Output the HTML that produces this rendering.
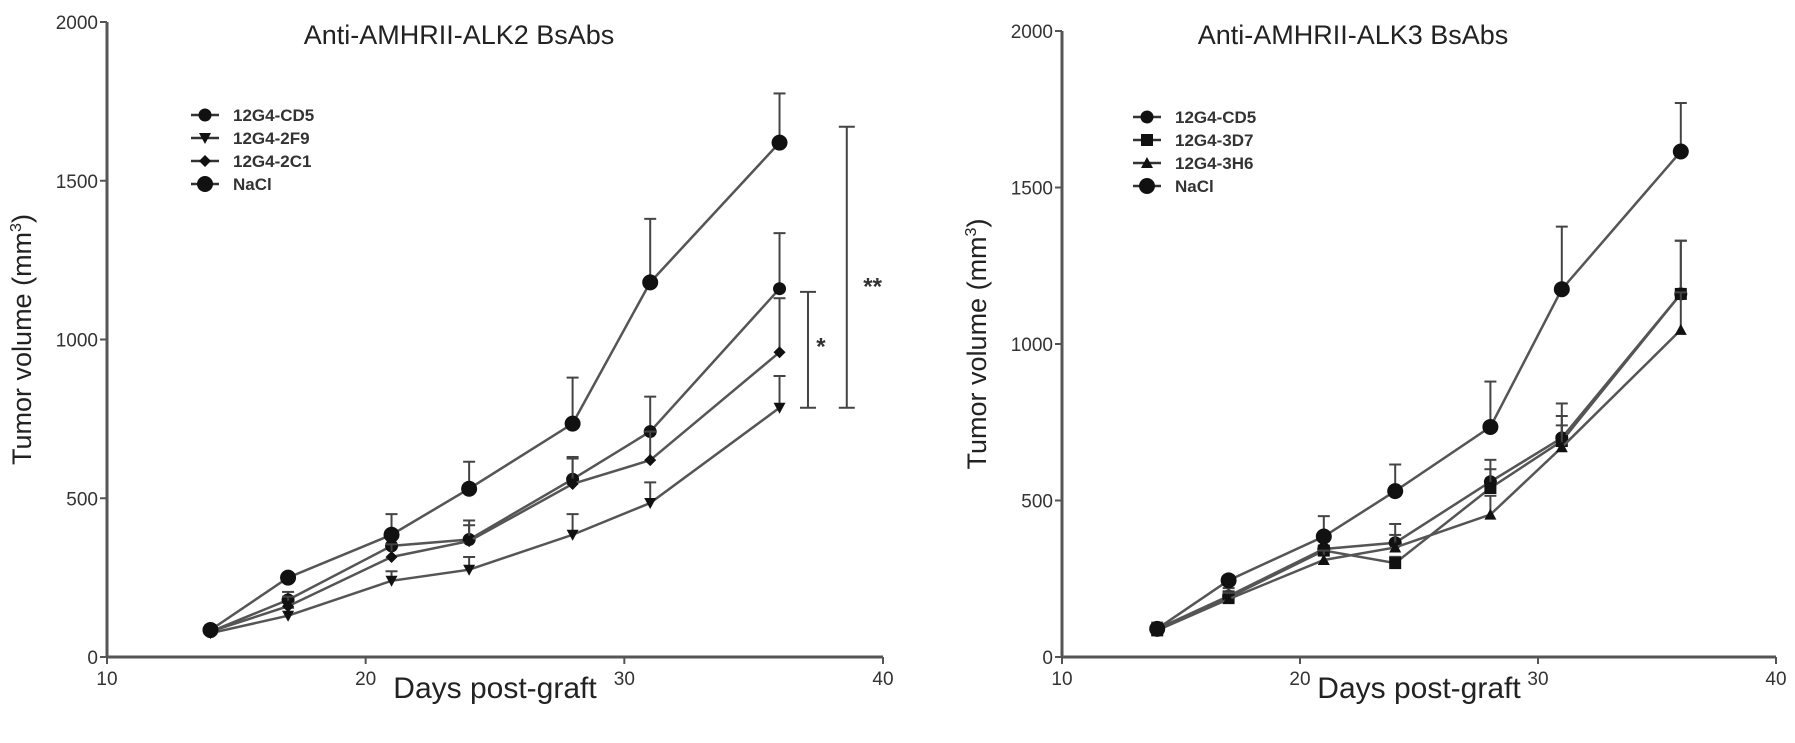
<!DOCTYPE html>
<html><head><meta charset="utf-8">
<style>
html,body{margin:0;padding:0;background:#fff;}
svg{display:block;font-family:"Liberation Sans",Arial,sans-serif;}
</style></head>
<body>
<svg id="chart" width="1795" height="743" viewBox="0 0 1795 743" xmlns="http://www.w3.org/2000/svg"></svg>
<script>
const days = [14,17,21,24,28,31,36];
const xTicks = [10,20,30,40];
const yTicks = [0,500,1000,1500,2000];
// Panel A (ALK2)
const a_cd5 = [80,180,350,370,560,710,1160];
const a_cd5_err = [20,25,40,60,70,110,175];
const a_2f9 = [75,130,240,275,385,485,785];
const a_2f9_err = [15,25,30,40,65,65,100];
const a_2c1 = [80,160,315,365,545,620,960];
const a_2c1_err = [15,30,40,50,80,90,170];
const a_nacl = [85,250,385,530,735,1180,1620];
const a_nacl_err = [10,10,65,85,145,200,155];
// Panel B (ALK3)
const b_cd5 = [90,195,345,365,560,700,1160];
const b_cd5_err = [20,25,50,60,70,110,170];
const b_3d7 = [85,190,340,300,540,690,1160];
const b_3d7_err = [15,20,30,20,60,80,170];
const b_3h6 = [85,185,310,350,455,670,1045];
const b_3h6_err = [15,20,30,40,60,70,120];
const b_nacl = [90,245,385,530,735,1175,1615];
const b_nacl_err = [10,10,65,85,145,200,155];

const NS="http://www.w3.org/2000/svg";
const svg=document.getElementById('chart');
function mk(tag,attrs,parent){const e=document.createElementNS(NS,tag);for(const k in attrs)e.setAttribute(k,attrs[k]);(parent||svg).appendChild(e);return e;}

function panel(p){
  const g=mk('g',{});
  
  
  const X=d=>p.x0+(d-10)/30*(p.x1-p.x0);
  const Y=v=>p.y0-v/2000*(p.y0-p.y1);
  const ax=mk('line',{x1:p.x0,y1:p.y0,x2:p.x0,y2:Y(2000),stroke:'#555','stroke-width':3},g);
  
  
  const bx=mk('line',{x1:p.x0,y1:p.y0,x2:p.x1,y2:p.y0,stroke:'#555','stroke-width':3},g);
  
  
  yTicks.forEach(v=>{
    mk('line',{x1:p.x0-7,y1:Y(v),x2:p.x0,y2:Y(v),stroke:'#555','stroke-width':2},g);
    const t=mk('text',{x:p.x0-9,y:Y(v)+7,'text-anchor':'end','font-size':19,fill:'#333'},g);
    t.textContent=v;
    
    
  });
  xTicks.forEach(v=>{
    mk('line',{x1:X(v),y1:p.y0,x2:X(v),y2:p.y0+7,stroke:'#555','stroke-width':2},g);
    const t=mk('text',{x:X(v),y:p.y0+28,'text-anchor':'middle','font-size':19,fill:'#333'},g);
    t.textContent=v;
    
    
  });
  const tt=mk('text',{x:p.tx,y:44,'text-anchor':'middle','font-size':27,fill:'#222'},g);
  tt.textContent=p.title;
  
  
  const xt=mk('text',{x:(p.x0+p.x1)/2,y:698,'text-anchor':'middle','font-size':30,fill:'#222'},g);
  xt.textContent='Days post-graft';
  
  
  const yt=mk('text',{x:0,y:0,'text-anchor':'middle','font-size':27,fill:'#222',transform:`translate(${p.x0-76},${(p.y0+Y(2000))/2}) rotate(-90)`},g);
  yt.innerHTML='Tumor volume (mm<tspan dy="-10" font-size="16">3</tspan><tspan dy="10">)</tspan>';
  
  

  p.series.forEach((s,si)=>{
    const sg=mk('g',{},g);
    
    
    s.err.forEach((e,i)=>{
      const x=X(days[i]),y=Y(s.vals[i]),ye=Y(s.vals[i]+e);
      mk('line',{x1:x,y1:y,x2:x,y2:ye,stroke:'#444','stroke-width':2},sg);
      mk('line',{x1:x-6,y1:ye,x2:x+6,y2:ye,stroke:'#444','stroke-width':2},sg);
    });
    mk('polyline',{points:s.vals.map((v,i)=>X(days[i])+','+Y(v)).join(' '),fill:'none',stroke:'#555','stroke-width':2.5},sg);
    s.vals.forEach((v,i)=>{
      const m=marker(sg,s.shape,X(days[i]),Y(v));
      
      
    });
    const ly=p.ly+si*23;
    mk('line',{x1:p.lx-14,y1:ly,x2:p.lx+14,y2:ly,stroke:'#333','stroke-width':2.5},g);
    marker(g,s.shape,p.lx,ly,true);
    const lt=mk('text',{x:p.lx+28,y:ly+6,'font-size':17,'font-weight':'bold',fill:'#333'},g);
    lt.textContent=s.name;
    
    
  });
  return {X,Y,g};
}
function marker(g,shape,x,y,leg){
  const c='#111';
  if(shape==='circle')return mk('circle',{cx:x,cy:y,r:8,fill:c},g);
  if(shape==='hex')return mk('circle',{cx:x,cy:y,r:6.5,fill:c},g);
  if(shape==='diamond')return mk('polygon',{points:`${x},${y-6} ${x+6},${y} ${x},${y+6} ${x-6},${y}`,fill:c},g);
  if(shape==='down')return mk('polygon',{points:`${x-6},${y-5} ${x+6},${y-5} ${x},${y+6}`,fill:c},g);
  if(shape==='up')return mk('polygon',{points:`${x-6},${y+5} ${x+6},${y+5} ${x},${y-6}`,fill:c},g);
  if(shape==='square')return mk('rect',{x:x-6,y:y-6,width:12,height:12,fill:c},g);
}

const A=panel({id:'panel-alk2',x0:107,x1:883,y0:657,y1:22,tx:459,title:'Anti-AMHRII-ALK2 BsAbs',lx:205,ly:115,
  series:[{name:'12G4-CD5',vals:a_cd5,err:a_cd5_err,shape:'hex'},
          {name:'12G4-2F9',vals:a_2f9,err:a_2f9_err,shape:'down'},
          {name:'12G4-2C1',vals:a_2c1,err:a_2c1_err,shape:'diamond'},
          {name:'NaCl',vals:a_nacl,err:a_nacl_err,shape:'circle'}]});
const B=panel({id:'panel-alk3',x0:1062,x1:1776,y0:657,y1:31,tx:1353,title:'Anti-AMHRII-ALK3 BsAbs',lx:1147,ly:117,
  series:[{name:'12G4-CD5',vals:b_cd5,err:b_cd5_err,shape:'hex'},
          {name:'12G4-3D7',vals:b_3d7,err:b_3d7_err,shape:'square'},
          {name:'12G4-3H6',vals:b_3h6,err:b_3h6_err,shape:'up'},
          {name:'NaCl',vals:b_nacl,err:b_nacl_err,shape:'circle'}]});

function bracket(day,lo,hi,label,lday,lval){
  const g=mk('g',{});
  
  
  const x=A.X(day);
  mk('line',{x1:x,y1:A.Y(lo),x2:x,y2:A.Y(hi),stroke:'#444','stroke-width':2},g);
  mk('line',{x1:x-8,y1:A.Y(lo),x2:x+8,y2:A.Y(lo),stroke:'#444','stroke-width':2},g);
  mk('line',{x1:x-8,y1:A.Y(hi),x2:x+8,y2:A.Y(hi),stroke:'#444','stroke-width':2},g);
  const t=mk('text',{x:A.X(lday),y:A.Y(lval)+12,'text-anchor':'middle','font-size':24,'font-weight':'bold',fill:'#333'},g);
  t.textContent=label;
}
bracket(37.1,785,1150,'*',37.6,990);
bracket(38.6,785,1670,'**',39.6,1180);
</script>
</body></html>
